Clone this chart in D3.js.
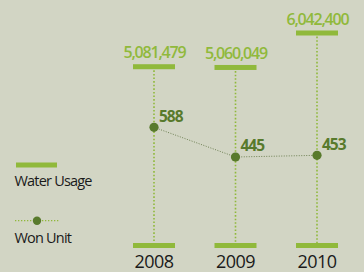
<!DOCTYPE html>
<html><head><meta charset="utf-8">
<script src="https://cdn.jsdelivr.net/npm/d3@7"></script>
<style>
html,body{margin:0;padding:0;background:#d2d5c4;}
svg{display:block;font-family:"Open Sans",sans-serif;}
</style></head>
<body><svg id="c" width="364" height="272"></svg>
<script>
const years = ["2008", "2009", "2010"];
const waterUsage = [5081479, 5060049, 6042400];
const waterLabels = ["5,081,479", "5,060,049", "6,042,400"];
const wonUnit = [588, 445, 453];
const legendLabels = ["Water Usage", "Won Unit"];

const light = "#90b93b", dark = "#587a2c", textDark = "#1a1a1a";
const svg = d3.select("#c");

const x = d3.scalePoint().domain(years).range([154, 317]);
const yWater = d3.scaleLinear().domain([0, 6042400]).range([245, 33]);
const yWon = d3.scaleLinear().domain([0, 600]).range([249.4, 124.8]);
const baseY = yWater(0);
const barW = 42;

const g = svg.append("g");
g.selectAll("line.v").data(years).join("line")
  .attr("x1", d => x(d)).attr("x2", d => x(d))
  .attr("y1", (d, i) => yWater(waterUsage[i]))
  .attr("y2", baseY)
  .attr("stroke", light).attr("stroke-width", 1.6).attr("stroke-dasharray", "1.6,2");
g.selectAll("rect.top").data(years).join("rect")
  .attr("x", d => x(d) - barW / 2).attr("width", barW)
  .attr("y", (d, i) => yWater(waterUsage[i]) - 2.5).attr("height", 5)
  .attr("fill", light);
g.selectAll("rect.base").data(years).join("rect")
  .attr("x", d => x(d) - barW / 2).attr("width", barW)
  .attr("y", baseY - 2).attr("height", 5)
  .attr("fill", light);
g.selectAll("text.w").data(years).join("text")
  .attr("x", d => x(d) + 0.5).attr("y", (d, i) => yWater(waterUsage[i]) - 8.5)
  .attr("text-anchor", "middle").attr("fill", light)
  .attr("font-size", 16).attr("font-weight", 600).attr("letter-spacing", -1.2)
  .text((d, i) => waterLabels[i]);
g.selectAll("text.y").data(years).join("text")
  .attr("x", d => x(d)).attr("y", 268.3)
  .attr("text-anchor", "middle").attr("fill", textDark)
  .attr("font-size", 18).attr("letter-spacing", -0.6)
  .text(d => d);
const line = d3.line().x((d, i) => x(years[i])).y(d => yWon(d));
g.append("path").datum(wonUnit).attr("d", line)
  .attr("fill", "none").attr("stroke", "#6f8154").attr("stroke-width", 1)
  .attr("stroke-dasharray", "1,1.5");
g.selectAll("circle.p").data(wonUnit).join("circle")
  .attr("cx", (d, i) => x(years[i])).attr("cy", d => yWon(d)).attr("r", 4.6)
  .attr("fill", dark);
g.selectAll("text.p").data(wonUnit).join("text")
  .attr("x", (d, i) => x(years[i]) + 5).attr("y", d => yWon(d) - 5.5)
  .attr("fill", dark).attr("font-size", 15.5).attr("font-weight", 700).attr("letter-spacing", -1)
  .text(d => d);
const lg = svg.append("g");
lg.append("rect").attr("x", 16).attr("y", 162.5).attr("width", 41).attr("height", 5).attr("fill", light);
lg.append("text").attr("x", 14.5).attr("y", 186).attr("fill", textDark)
  .attr("font-size", 14.5).attr("letter-spacing", -0.8).text(legendLabels[0]);
lg.append("line").attr("x1", 15).attr("x2", 59).attr("y1", 220.7).attr("y2", 220.7)
  .attr("stroke", light).attr("stroke-width", 1.2).attr("stroke-dasharray", "1.3,1.7");
lg.append("circle").attr("cx", 37).attr("cy", 220.7).attr("r", 4.2).attr("fill", dark);
lg.append("text").attr("x", 14.5).attr("y", 242.5).attr("fill", textDark)
  .attr("font-size", 14.5).attr("letter-spacing", -0.8).text(legendLabels[1]);
</script></body></html>
